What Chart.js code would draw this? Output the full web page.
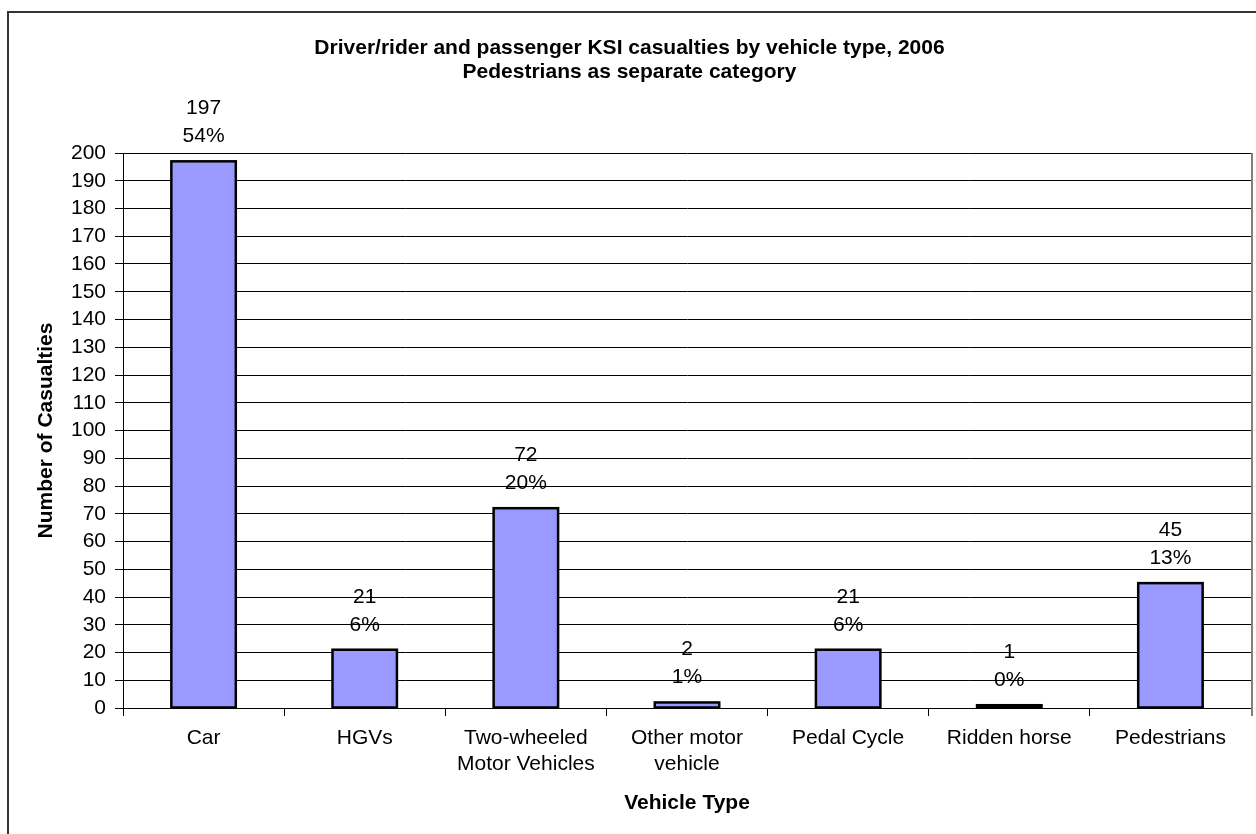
<!DOCTYPE html>
<html>
<head>
<meta charset="utf-8">
<title>Driver/rider and passenger KSI casualties by vehicle type, 2006</title>
<script src="https://cdn.jsdelivr.net/npm/chart.js@4/dist/chart.umd.min.js"></script>
<style>
  html, body { margin: 0; padding: 0; background: #fff; overflow: hidden; width: 1256px; height: 834px; }
  #frame { position: absolute; left: 7px; top: 11px; width: 1400px; height: 1000px; border: 2px solid #333; box-sizing: border-box; }
  #wrap { position: absolute; left: 8px; top: 12px; }
  canvas { display: block; }
</style>
</head>
<body>
<div id="frame"></div>
<div id="wrap"><canvas id="chart" width="1260" height="840"></canvas></div>
<script>
// Casualty counts per vehicle type (killed or seriously injured), 2006
const categories = [
  'Car',
  'HGVs',
  ['Two-wheeled', 'Motor Vehicles'],
  ['Other motor', 'vehicle'],
  'Pedal Cycle',
  'Ridden horse',
  'Pedestrians'
];
const casualties = [197, 21, 72, 2, 21, 1, 45];
const shareLabels = ['54%', '6%', '20%', '1%', '6%', '0%', '13%'];
const titleLines = [
  'Driver/rider and passenger KSI casualties by vehicle type, 2006',
  'Pedestrians as separate category'
];

const FONT = '"Liberation Sans", Arial, Helvetica, sans-serif';

// Black outline centred on each bar's edges, then value and share above it
const barDecor = {
  id: 'barDecor',
  afterDatasetsDraw(chart) {
    const ctx = chart.ctx;
    const meta = chart.getDatasetMeta(0);
    ctx.save();
    ctx.strokeStyle = '#000';
    ctx.lineWidth = 2.5;
    meta.data.forEach((bar) => {
      const left = bar.x - bar.width / 2;
      ctx.strokeRect(left, bar.y, bar.width, bar.base - bar.y);
    });
    ctx.font = '21px ' + FONT;
    ctx.fillStyle = '#000';
    ctx.textAlign = 'center';
    ctx.textBaseline = 'middle';
    meta.data.forEach((bar, i) => {
      ctx.fillText(String(casualties[i]), bar.x, bar.y - 53);
      ctx.fillText(shareLabels[i], bar.x, bar.y - 25);
    });
    ctx.restore();
  }
};

// Grey right-hand edge of the plot area
const plotEdge = {
  id: 'plotEdge',
  afterDraw(chart) {
    const { ctx, chartArea } = chart;
    ctx.save();
    ctx.strokeStyle = '#808080';
    ctx.lineWidth = 2;
    ctx.beginPath();
    ctx.moveTo(chartArea.right + 1, chartArea.top);
    ctx.lineTo(chartArea.right + 1, chartArea.bottom + 8);
    ctx.stroke();
    ctx.restore();
  }
};

new Chart(document.getElementById('chart'), {
  type: 'bar',
  data: {
    labels: categories,
    datasets: [{
      data: casualties,
      backgroundColor: '#9999FF',
      borderWidth: 0,
      barPercentage: 0.4,
      categoryPercentage: 1.0
    }]
  },
  options: {
    responsive: false,
    animation: false,
    devicePixelRatio: 1,
    layout: { padding: { left: 0, right: 17, top: 0, bottom: 0 } },
    plugins: {
      legend: { display: false },
      tooltip: { enabled: false },
      title: {
        display: true,
        text: titleLines,
        color: '#000',
        font: { family: FONT, size: 21, weight: 'bold', lineHeight: '24px' },
        padding: { top: 24, bottom: 69 }
      }
    },
    scales: {
      x: {
        grid: {
          offset: true,
          drawOnChartArea: false,
          drawTicks: true,
          tickLength: 8,
          tickColor: '#000',
          color: '#000'
        },
        border: { display: true, color: '#000', width: 1 },
        ticks: {
          color: '#000',
          padding: 9,
          maxRotation: 0,
          autoSkip: false,
          font: { family: FONT, size: 21, lineHeight: '26px' }
        },
        title: {
          display: true,
          text: 'Vehicle Type',
          color: '#000',
          font: { family: FONT, size: 21, weight: 'bold' },
          padding: { top: 0, bottom: 36 }
        },
        afterFit(scale) { scale.height = 840 - 696; }
      },
      y: {
        min: 0,
        max: 200,
        grid: {
          color: '#000',
          lineWidth: 1,
          drawTicks: true,
          tickLength: 8,
          tickColor: '#000'
        },
        border: { display: true, color: '#000', width: 1 },
        ticks: {
          stepSize: 10,
          maxTicksLimit: 30,
          autoSkip: false,
          color: '#000',
          padding: 9,
          font: { family: FONT, size: 21 }
        },
        title: {
          display: true,
          text: 'Number of Casualties',
          color: '#000',
          font: { family: FONT, size: 21, weight: 'bold' },
          padding: { top: 26, bottom: 0 }
        },
        afterFit(scale) { scale.width = 115; }
      }
    }
  },
  plugins: [barDecor, plotEdge]
});
</script>
</body>
</html>
